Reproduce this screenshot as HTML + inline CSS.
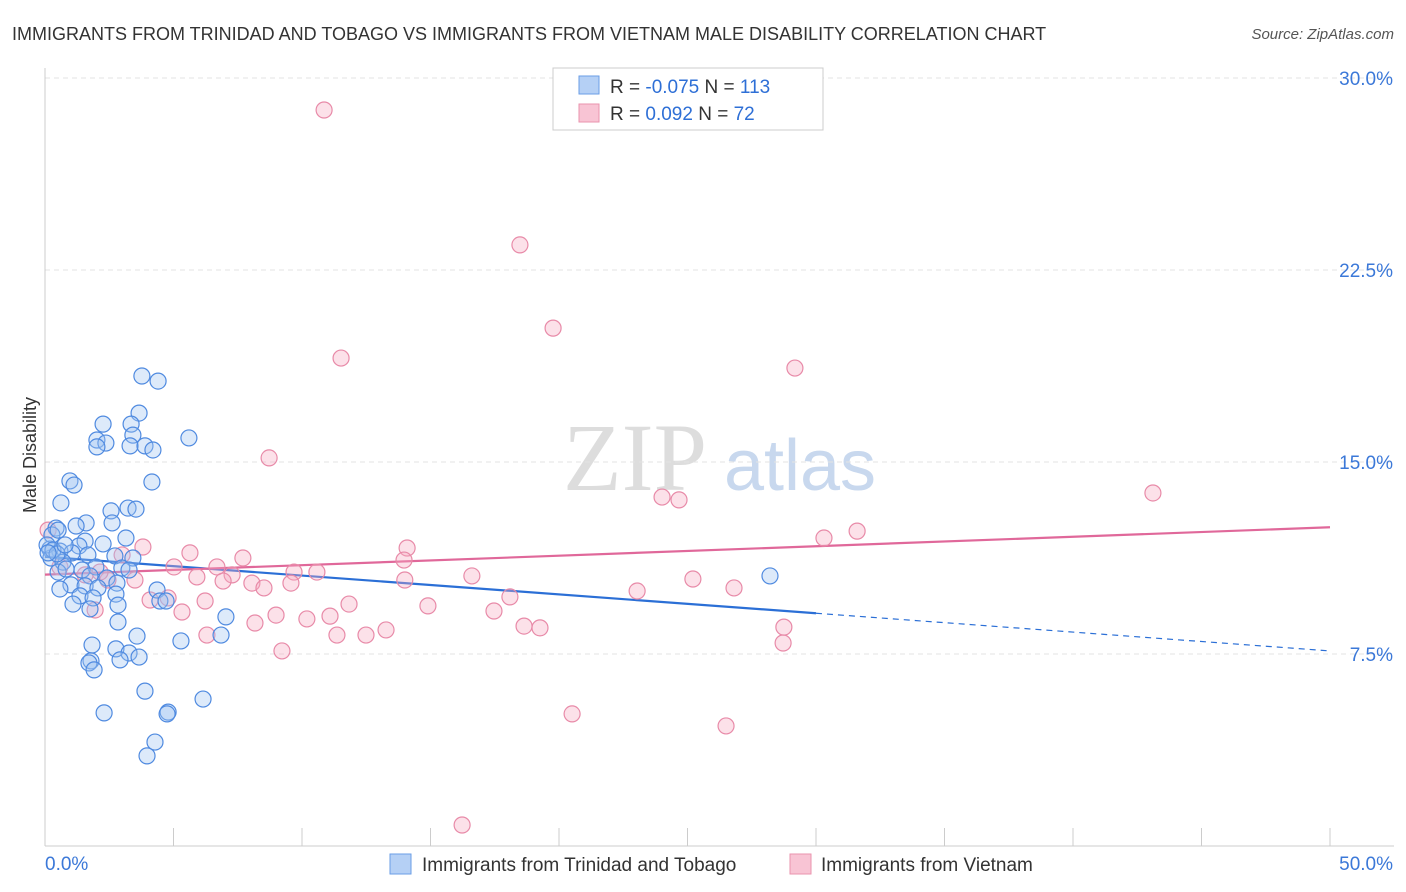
<!DOCTYPE html>
<html><head><meta charset="utf-8">
<style>
body{margin:0;background:#fff;font-family:"Liberation Sans",sans-serif;}
svg{display:block}
</style></head>
<body>
<svg id="chart" width="1406" height="892" font-family="Liberation Sans, sans-serif">
<text x="12" y="40" font-size="18" fill="#333">IMMIGRANTS FROM TRINIDAD AND TOBAGO VS IMMIGRANTS FROM VIETNAM MALE DISABILITY CORRELATION CHART</text>
<text x="1394" y="39" font-size="15" fill="#555" text-anchor="end" font-style="italic">Source: ZipAtlas.com</text>
<text x="36" y="455" font-size="18" fill="#333" text-anchor="middle" transform="rotate(-90 36 455)">Male Disability</text>
<g>
<text x="635" y="490" font-size="96" fill="#ddd" text-anchor="middle" font-family="Liberation Serif, serif">ZIP</text>
<text x="800" y="490" font-size="72" fill="#c8d8ee" text-anchor="middle">atlas</text>
</g>
<g id="grid"></g>
<g id="axes"></g>
<g id="trends"></g>
<g id="points"></g>
<g>
<rect x="553" y="68" width="270" height="62" fill="#fff" stroke="#ccc"/>
<rect x="579" y="76" width="20" height="18" fill="#b5d0f5" stroke="#6a9ee6"/>
<rect x="579" y="104" width="20" height="18" fill="#f8c4d4" stroke="#ea93ae"/>
<text x="610" y="93" font-size="19" fill="#333">R = <tspan fill="#2e6fd6">-0.075</tspan>   N = <tspan fill="#2e6fd6">113</tspan></text>
<text x="610" y="120" font-size="19" fill="#333">R =  <tspan fill="#2e6fd6"> 0.092</tspan>   N =  <tspan fill="#2e6fd6">72</tspan></text>
</g>
<g>
<rect x="390" y="854" width="21" height="20" fill="#b5d0f5" stroke="#6a9ee6"/>
<text x="422" y="871" font-size="19" fill="#333">Immigrants from Trinidad and Tobago</text>
<rect x="790" y="854" width="21" height="20" fill="#f8c4d4" stroke="#ea93ae"/>
<text x="821" y="871" font-size="19" fill="#333">Immigrants from Vietnam</text>
</g>
</svg>
<script>
const blueX=[3.77,4.40,3.66,2.26,3.35,3.42,2.02,2.37,2.02,3.31,3.89,4.20,5.60,0.97,1.13,4.16,0.62,3.23,3.54,2.57,2.61,1.60,1.21,0.43,0.27,3.15,1.56,2.26,1.32,0.19,0.58,1.05,1.67,2.72,3.42,0.23,0.70,1.98,1.44,2.99,3.27,0.51,1.75,2.41,2.80,1.01,1.56,2.06,0.58,2.76,4.36,1.36,1.87,1.09,2.84,1.75,4.47,4.71,7.04,2.84,6.85,3.58,5.29,1.83,2.76,3.27,3.66,1.79,2.92,1.71,1.91,3.89,6.15,4.79,4.75,2.30,4.28,3.97,28.21,0.08,0.31,0.47,0.78,0.12,0.51,0.82];
const blueY=[18.36,18.16,16.91,16.48,16.48,16.05,15.86,15.74,15.59,15.63,15.63,15.47,15.94,14.26,14.10,14.22,13.40,13.20,13.16,13.09,12.62,12.62,12.50,12.42,12.15,12.03,11.91,11.80,11.72,11.60,11.52,11.45,11.37,11.33,11.25,11.25,11.09,10.90,10.78,10.86,10.78,10.70,10.55,10.47,10.27,10.20,10.16,10.08,10.04,9.84,10.00,9.77,9.69,9.45,9.41,9.26,9.57,9.57,8.95,8.75,8.24,8.20,8.01,7.85,7.70,7.54,7.38,7.23,7.27,7.15,6.88,6.05,5.74,5.23,5.16,5.20,4.06,3.52,10.55,11.76,11.56,11.41,11.76,11.45,12.34,10.82];
const pinkX=[10.86,18.48,19.77,11.52,29.18,8.72,43.11,24.01,24.67,31.60,30.31,3.81,14.09,5.64,3.00,7.70,13.97,5.02,6.69,9.69,10.58,7.28,16.61,25.21,14.00,5.91,6.93,8.05,3.50,2.45,8.52,26.81,23.04,9.57,18.09,6.23,4.09,4.79,11.83,14.90,17.47,5.33,8.99,11.09,10.19,8.17,28.75,18.64,19.26,13.27,11.36,12.49,6.30,28.72,9.22,20.51,26.50,16.23,0.12,1.95,1.56,0.58,2.14];
const pinkY=[28.75,23.48,20.23,19.06,18.67,15.16,13.79,13.63,13.52,12.30,12.03,11.68,11.64,11.45,11.37,11.25,11.17,10.90,10.90,10.70,10.70,10.59,10.55,10.43,10.39,10.51,10.35,10.27,10.39,10.39,10.08,10.08,9.96,10.27,9.73,9.57,9.61,9.69,9.45,9.38,9.18,9.14,9.02,8.98,8.87,8.71,8.55,8.59,8.52,8.44,8.24,8.24,8.24,7.93,7.62,5.16,4.69,0.82,12.34,9.22,10.59,10.90,10.70];
const yTicks=[7.5,15.0,22.5,30.0];
const xTickLabels=["0.0%","50.0%"];
const blueTrend=[11.3,-0.0736]; // intercept, slope
const blueSolidEnd=30;
const pinkTrend=[10.6,0.037];

const NS="http://www.w3.org/2000/svg";
const X0=45,X1=1330,Y0=846;
const xs=v=>X0+v*(X1-X0)/50;
const ys=v=>Y0-v*25.6;
function mk(tag,attrs,parent){const e=document.createElementNS(NS,tag);for(const k in attrs)e.setAttribute(k,attrs[k]);parent.appendChild(e);return e;}
const grid=document.getElementById('grid'),axes=document.getElementById('axes'),tr=document.getElementById('trends'),pts=document.getElementById('points');
yTicks.forEach(t=>{
 const l=mk('line',{x1:X0,x2:1394,y1:ys(t),y2:ys(t),stroke:'#e3e3e3','stroke-dasharray':'5,4'},grid);
 
 
 const tx=mk('text',{x:1393,y:ys(t)+7,'font-size':19,fill:'#3b78d8','text-anchor':'end'},axes);
 tx.textContent=t.toFixed(1)+'%';
 
 
});
const xa=mk('line',{x1:X0,x2:1394,y1:Y0,y2:Y0,stroke:'#ccc'},axes);


const ya=mk('line',{x1:X0,x2:X0,y1:68,y2:Y0,stroke:'#ccc'},axes);


for(let i=0;i<=10;i++){
 const t=mk('line',{x1:xs(i*5),x2:xs(i*5),y1:Y0-18,y2:Y0,stroke:'#ccc'},axes);
 
 
}
const xl0=mk('text',{x:45,y:870,'font-size':19,fill:'#3b78d8'},axes);xl0.textContent=xTickLabels[0];


const xl1=mk('text',{x:1393,y:870,'font-size':19,fill:'#3b78d8','text-anchor':'end'},axes);xl1.textContent=xTickLabels[1];



function dot(x,y,fill,stroke,name){
 const c=mk('circle',{cx:xs(x),cy:ys(y),r:8,fill:fill,'fill-opacity':0.35,stroke:stroke,'stroke-width':1.2},pts);
 
 
}
pinkX.forEach((x,i)=>dot(x,pinkY[i],'#f5a9c1','#e88aa8','vietnam-point'));
blueX.forEach((x,i)=>dot(x,blueY[i],'#9fc2f0','#4f8ae0','trinidad-point'));

const bt=v=>blueTrend[0]+blueTrend[1]*v, pt=v=>pinkTrend[0]+pinkTrend[1]*v;
const b1=mk('line',{x1:xs(0),y1:ys(bt(0)),x2:xs(blueSolidEnd),y2:ys(bt(blueSolidEnd)),stroke:'#2b6fd6','stroke-width':2.2},tr);


const b2=mk('line',{x1:xs(blueSolidEnd),y1:ys(bt(blueSolidEnd)),x2:xs(50),y2:ys(bt(50)),stroke:'#2b6fd6','stroke-width':1.2,'stroke-dasharray':'6,5'},tr);


const p1=mk('line',{x1:xs(0),y1:ys(pt(0)),x2:xs(50),y2:ys(pt(50)),stroke:'#e0689a','stroke-width':2.2},tr);


</script>
</body></html>
